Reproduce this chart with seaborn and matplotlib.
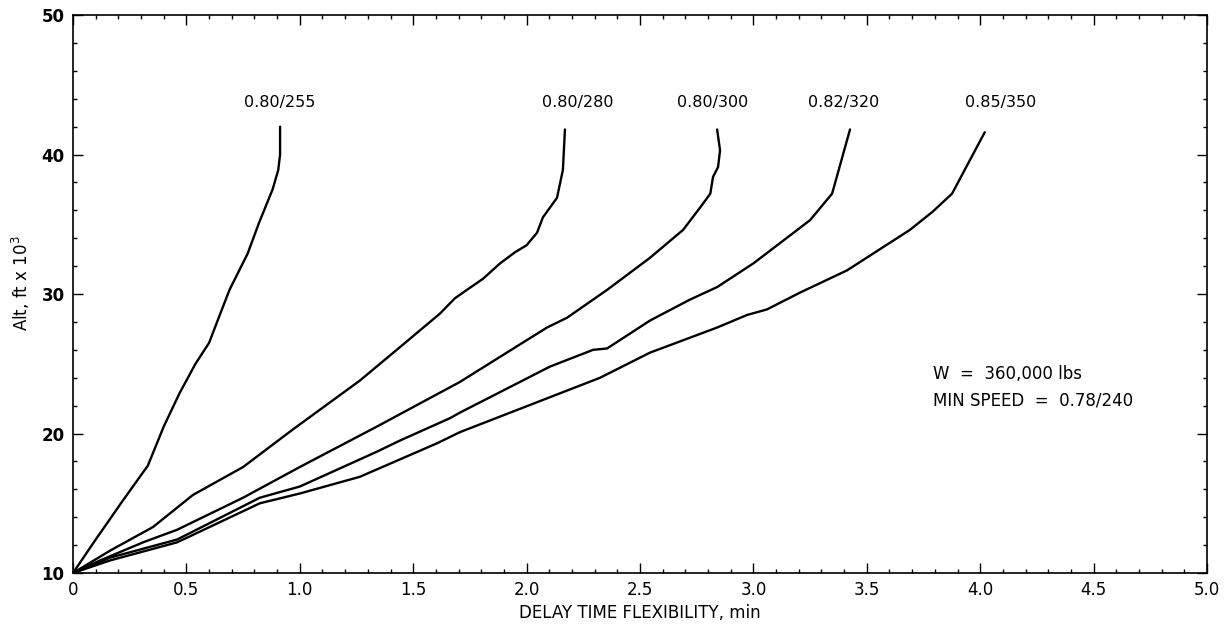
import numpy as np
import pandas as pd
import seaborn as sns
import matplotlib
matplotlib.use("Agg")
import matplotlib.pyplot as plt
from matplotlib.ticker import MultipleLocator

# curve labels (Mach / KCAS)
labels = ["0.80/255", "0.80/280", "0.80/300", "0.82/320", "0.85/350"]

# delay time flexibility (min) and altitude (ft x 10^3)
x_255 = [0, 0.10, 0.22, 0.33, 0.40, 0.47, 0.54, 0.60, 0.64, 0.69, 0.77, 0.82,
         0.88, 0.905, 0.913, 0.913]
y_255 = [10, 12.4, 15.2, 17.7, 20.5, 22.9, 25.0, 26.5, 28.2, 30.3, 32.9, 35.1,
         37.5, 38.9, 40.0, 42.0]

x_280 = [0, 0.163, 0.353, 0.529, 0.75, 0.97, 1.265, 1.442, 1.53, 1.618, 1.684,
         1.737, 1.808, 1.883, 1.949, 2.0, 2.046, 2.072, 2.134, 2.16, 2.169]
y_280 = [10, 11.6, 13.3, 15.6, 17.6, 20.3, 23.8, 26.2, 27.4, 28.6, 29.7,
         30.3, 31.1, 32.2, 33.0, 33.5, 34.4, 35.5, 36.9, 38.9, 41.8]

x_300 = [0, 0.119, 0.309, 0.459, 0.75, 1.0, 1.34, 1.706, 1.883, 2.09, 2.178,
         2.293, 2.355, 2.544, 2.69, 2.765, 2.81, 2.822, 2.844, 2.853, 2.84]
y_300 = [10, 10.9, 12.2, 13.1, 15.4, 17.6, 20.5, 23.7, 25.5, 27.6, 28.3,
         29.6, 30.3, 32.6, 34.6, 36.2, 37.2, 38.4, 39.1, 40.3, 41.8]

x_320 = [0, 0.163, 0.459, 0.824, 1.0, 1.34, 1.442, 1.662, 1.706, 2.103, 2.293,
         2.355, 2.544, 2.72, 2.84, 3.0, 3.25, 3.347, 3.426]
y_320 = [10, 11.1, 12.4, 15.4, 16.2, 18.7, 19.5, 21.1, 21.5, 24.8, 26.0,
         26.1, 28.1, 29.6, 30.5, 32.2, 35.3, 37.2, 41.8]

x_350 = [0, 0.163, 0.459, 0.824, 1.0, 1.265, 1.605, 1.706, 2.324, 2.544, 2.84,
         2.972, 3.06, 3.205, 3.413, 3.69, 3.79, 3.876, 4.02]
y_350 = [10, 10.9, 12.2, 15.0, 15.7, 16.9, 19.3, 20.1, 24.0, 25.8, 27.6,
         28.5, 28.9, 30.1, 31.7, 34.6, 35.9, 37.2, 41.6]

note_lines = ["W  =  360,000 lbs", "MIN SPEED  =  0.78/240"]

xs = [x_255, x_280, x_300, x_320, x_350]
ys = [y_255, y_280, y_300, y_320, y_350]

frames = []
for lab, x, y in zip(labels, xs, ys):
    frames.append(pd.DataFrame({"delay": x, "alt": y, "speed": lab}))
df = pd.concat(frames, ignore_index=True)

sns.set_style("ticks")
plt.rcParams["font.family"] = ["DejaVu Sans"]
plt.rcParams["text.color"] = "black"
plt.rcParams["axes.labelcolor"] = "black"
plt.rcParams["xtick.color"] = "black"
plt.rcParams["ytick.color"] = "black"

fig = plt.figure(figsize=(12.27, 6.29), dpi=100)
ax = fig.add_axes([0.0595, 0.089, 0.9242, 0.887])

sns.lineplot(data=df, x="delay", y="alt", hue="speed", units="speed",
             estimator=None, sort=False, palette=["black"] * len(labels),
             linewidth=1.7, legend=False, ax=ax)

ax.set_xlim(0, 5.0)
ax.set_ylim(10, 50)
ax.xaxis.set_major_locator(MultipleLocator(0.5))
ax.xaxis.set_minor_locator(MultipleLocator(0.1))
ax.yaxis.set_major_locator(MultipleLocator(10))
ax.yaxis.set_minor_locator(MultipleLocator(2))
ax.set_xticklabels(["0" if t == 0 else f"{t:.1f}" for t in ax.get_xticks()])

ax.tick_params(which="both", direction="in", top=True, right=True,
               color="black", labelcolor="black", width=1)
ax.tick_params(which="major", length=7, labelsize=12, pad=6)
ax.tick_params(which="minor", length=3)
for lbl in ax.get_yticklabels():
    lbl.set_fontweight("bold")

for sp in ax.spines.values():
    sp.set_color("black")
    sp.set_linewidth(1.2)

ax.set_xlabel("DELAY TIME FLEXIBILITY, min", fontsize=12, labelpad=3)
ax.set_ylabel(r"Alt, ft x 10$^3$", fontsize=12)
ax.yaxis.set_label_coords(-0.036, 0.52)

# curve labels above the top of each line
label_x = [0.913, 2.227, 2.82, 3.40, 4.09]
for lab, lx in zip(labels, label_x):
    ax.text(lx, 43.7, lab, ha="center", va="center", fontsize=11.5)

ax.text(3.79, 24.3, note_lines[0], ha="left", va="center", fontsize=12)
ax.text(3.79, 22.4, note_lines[1], ha="left", va="center", fontsize=12)

fig.savefig("out.png", dpi=100, facecolor="white")
